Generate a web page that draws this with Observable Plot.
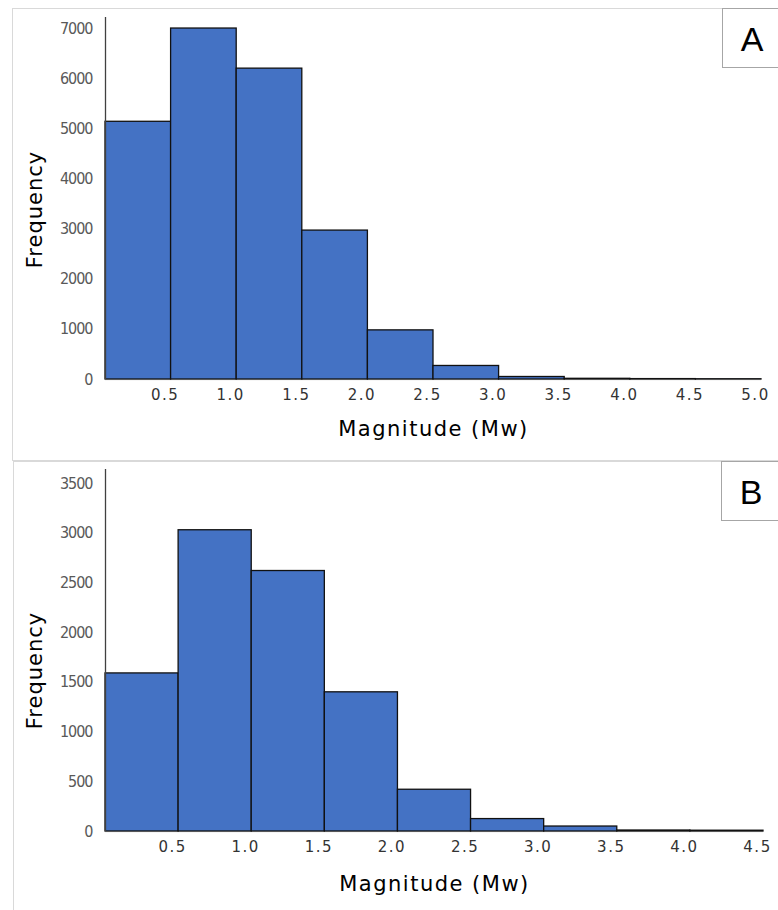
<!DOCTYPE html>
<html>
<head>
<meta charset="utf-8">
<script src="https://cdn.jsdelivr.net/npm/d3@7"></script>
<script src="https://cdn.jsdelivr.net/npm/@observablehq/plot@0.6"></script>
<style>
  html, body { margin: 0; padding: 0; background: #fff; }
  #wrap { position: relative; width: 778px; height: 910px; overflow: hidden; background: #fff; }
  .panel { position: absolute; border: 1.5px solid #d9d9d9; box-sizing: border-box; }
  .tag { position: absolute; border: 1.5px solid #a6a6a6; background: #fff; box-sizing: border-box;
         font-family: "Liberation Sans", Arial, sans-serif; font-size: 34px; color: #000;
         display: flex; align-items: center; justify-content: center; }
  .chart { position: absolute; left: 0; }
  .chart svg { overflow: visible; }
  .chart g[aria-label="y-axis tick label"] text {
    font-family: "DejaVu Sans Condensed", "DejaVu Sans", sans-serif; font-size: 16px;
    letter-spacing: -1px; fill: #595959;
  }
  .chart g[aria-label="x-axis tick label"] text {
    font-family: "DejaVu Sans", sans-serif; font-size: 15px; letter-spacing: 1.5px; fill: #333;
  }
  .chart g.xtitle { font-family: "DejaVu Sans", sans-serif; font-size: 21px; letter-spacing: 1.5px; fill: #000; }
  .chart g.ytitle { font-family: "DejaVu Sans", sans-serif; font-size: 21px; letter-spacing: 1px; fill: #000; }
</style>
</head>
<body>
<div id="wrap">
  <div class="panel" style="left:12px; top:8px; width:790px; height:453px;"></div>
  <div class="panel" style="left:13px; top:461px; width:790px; height:470px;"></div>
  <div id="chartA" class="chart" style="top:0px;"></div>
  <div id="chartB" class="chart" style="top:455px;"></div>
  <div class="tag" style="left:722px; top:8px; width:70px; height:60px; padding-right:10px; padding-top:2px;">A</div>
  <div class="tag" style="left:721px; top:461px; width:70px; height:60px; padding-right:10px; padding-top:2px;">B</div>
</div>
<script>
// Panel A: magnitude bins (lower edges), counts
const binStartA = [0.0, 0.5, 1.0, 1.5, 2.0, 2.5, 3.0, 3.5, 4.0, 4.5];
const countsA   = [5140, 7000, 6200, 2970, 980, 270, 50, 14, 8, 5];
const yTicksA   = [0, 1000, 2000, 3000, 4000, 5000, 6000, 7000];
const xTicksA   = [0.5, 1.0, 1.5, 2.0, 2.5, 3.0, 3.5, 4.0, 4.5, 5.0];

// Panel B
const binStartB = [0.0, 0.5, 1.0, 1.5, 2.0, 2.5, 3.0, 3.5, 4.0];
const countsB   = [1590, 3030, 2620, 1400, 420, 125, 50, 10, 8];
const yTicksB   = [0, 500, 1000, 1500, 2000, 2500, 3000, 3500];
const xTicksB   = [0.5, 1.0, 1.5, 2.0, 2.5, 3.0, 3.5, 4.0, 4.5];

const binWidth = 0.5;
const xTitle = "Magnitude (Mw)";
const yTitle = "Frequency";

function makeChart(starts, counts, yTicks, xTicks, opts) {
  const data = starts.map((s, i) => ({x1: s, x2: s + binWidth, y: counts[i]}));
  return Plot.plot({
    width: 778,
    height: 455,
    marginLeft: 105,
    marginRight: opts.marginRight,
    marginTop: opts.marginTop,
    marginBottom: opts.marginBottom,
    style: {background: "transparent", overflow: "visible"},
    x: {domain: opts.xDomain},
    y: {domain: opts.yDomain},
    marks: [
      Plot.ruleY([0], {stroke: "#d9d9d9", strokeWidth: 1.5}),
      Plot.rectY(data, {x1: "x1", x2: "x2", y: "y", fill: "#4472C4", stroke: "#111", strokeWidth: 1.3, inset: 0}),
      Plot.ruleX([0], {y1: 0, y2: opts.yDomain[1], stroke: "#404040", strokeWidth: 1.3}),
      Plot.axisY({ticks: yTicks, tickSize: 0, tickPadding: 13, label: null,
                  tickFormat: d => String(d)}),
      Plot.axisX({ticks: xTicks, tickSize: 0, tickPadding: 10, dx: -6, label: null,
                  tickFormat: d => d.toFixed(1)}),
      Plot.text([xTitle], {frameAnchor: "bottom", textAnchor: "middle", lineAnchor: "middle",
                           dy: opts.xTitleDy, className: "xtitle"}),
      Plot.text([yTitle], {frameAnchor: "left", textAnchor: "middle", lineAnchor: "middle",
                           dx: -70, dy: opts.yTitleDy, rotate: -90, className: "ytitle"})
    ]
  });
}

document.getElementById("chartA").append(makeChart(binStartA, countsA, yTicksA, xTicksA, {
  marginRight: 17, marginTop: 17, marginBottom: 76,
  xDomain: [0, 5], yDomain: [0, 7220], xTitleDy: 50, yTitleDy: 11
}));
document.getElementById("chartB").append(makeChart(binStartB, countsB, yTicksB, xTicksB, {
  marginRight: 15, marginTop: 14, marginBottom: 79,
  xDomain: [0, 4.5], yDomain: [0, 3641], xTitleDy: 53, yTitleDy: 20
}));
</script>
</body>
</html>
